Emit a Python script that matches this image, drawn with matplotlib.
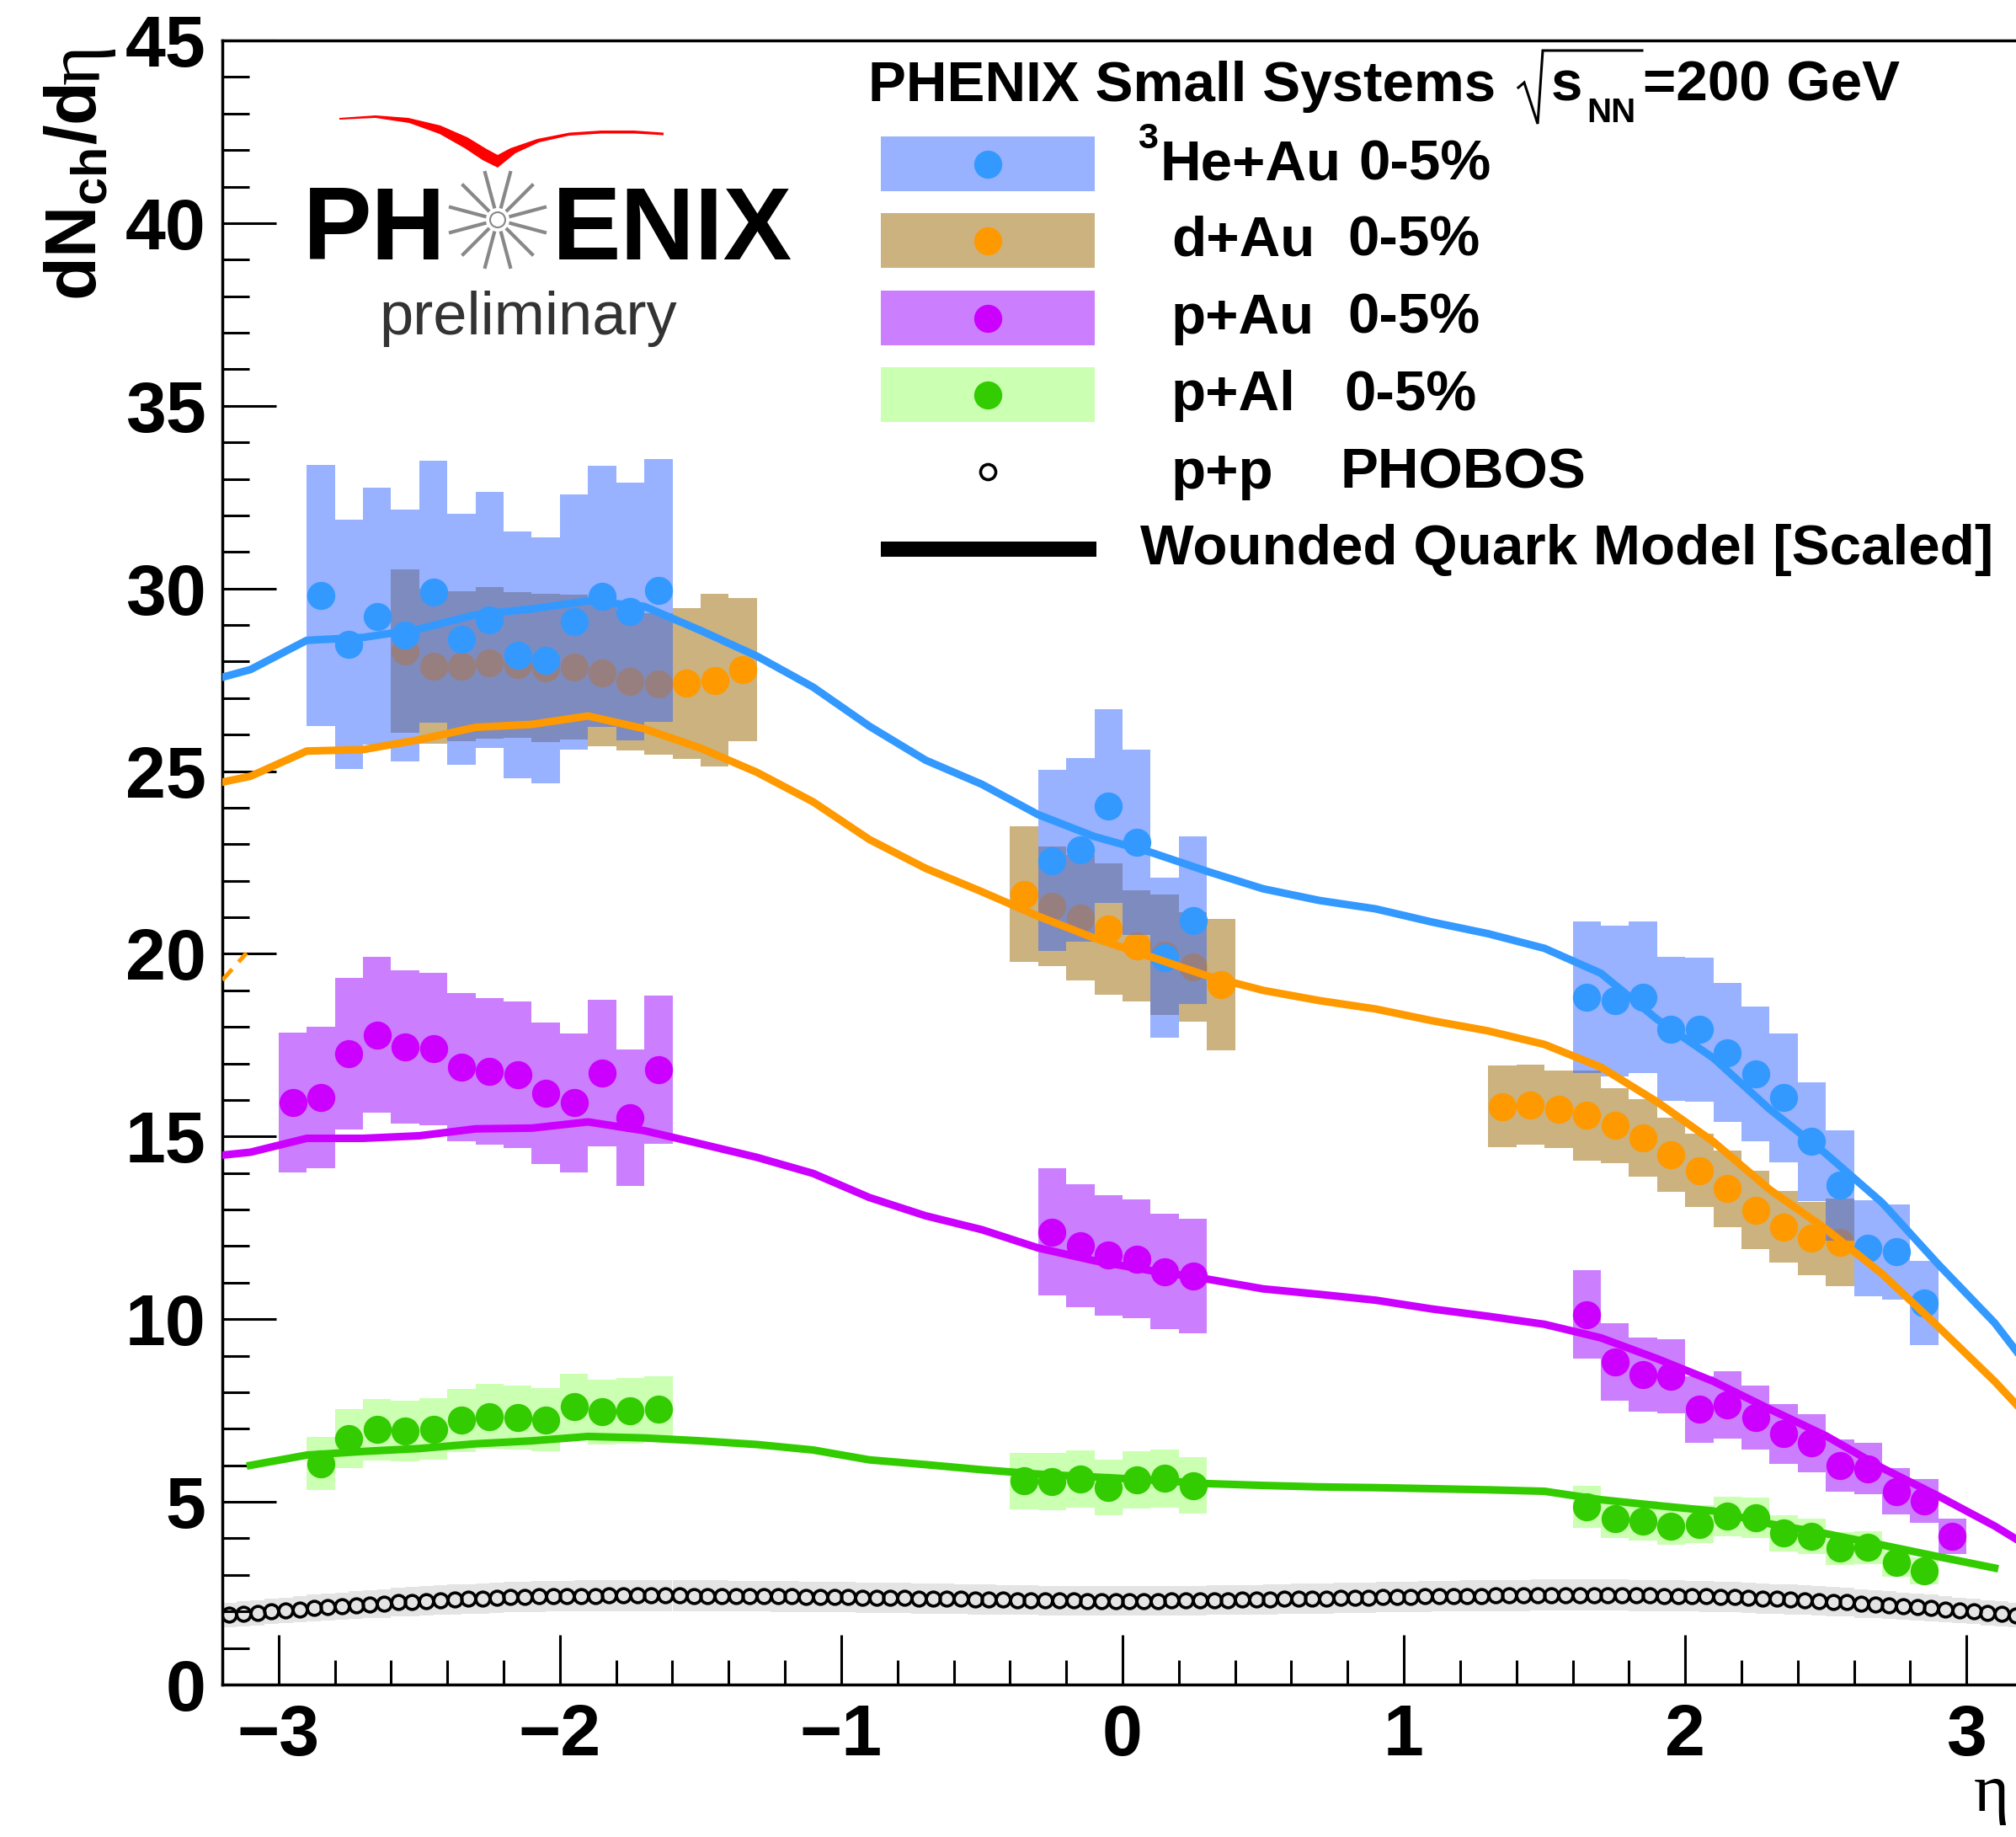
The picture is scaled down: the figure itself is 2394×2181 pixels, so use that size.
import numpy as np
import matplotlib
matplotlib.use("Agg")
import matplotlib.pyplot as plt
from matplotlib.patches import Polygon, Rectangle, Circle
from matplotlib.ticker import MultipleLocator

plt.rcParams['font.family'] = ['Liberation Sans', 'DejaVu Sans']
plt.rcParams['font.weight'] = 'bold'
plt.rcParams['mathtext.fontset'] = 'custom'
plt.rcParams['mathtext.rm'] = 'Liberation Serif'
plt.rcParams['mathtext.bf'] = 'Liberation Sans:bold'
plt.rcParams['mathtext.it'] = 'Liberation Sans:italic:bold'
plt.rcParams['mathtext.default'] = 'bf'

# ---- measured dN/deta, 0-5% central ----
# 3He+Au
he_bw_x = [-2.85, -2.75, -2.65, -2.55, -2.45, -2.35, -2.25, -2.15, -2.05, -1.95, -1.85, -1.75, -1.65]
he_bw_y = [29.81, 28.47, 29.24, 28.72, 29.91, 28.62, 29.14, 28.18, 28.04, 29.09, 29.79, 29.37, 29.95]
he_mid_x = [-0.25, -0.15, -0.05, 0.05, 0.15, 0.25]
he_mid_y = [22.55, 22.84, 24.05, 23.06, 19.89, 20.92]
he_fw_x = [1.65, 1.75, 1.85, 1.95, 2.05, 2.15, 2.25, 2.35, 2.45, 2.55, 2.65, 2.75, 2.85]
he_fw_y = [18.81, 18.71, 18.81, 17.94, 17.93, 17.29, 16.72, 16.06, 14.86, 13.66, 11.94, 11.84, 10.44]
he_syst = {"bw": 0.12, "mid": 0.11, "fw": 0.11}

# d+Au (systematics given as absolute half widths)
da_bw_x = [-2.55, -2.45, -2.35, -2.25, -2.15, -2.05, -1.95, -1.85, -1.75, -1.65, -1.55, -1.45, -1.35]
da_bw_y = [28.29, 27.87, 27.87, 27.97, 27.91, 27.82, 27.85, 27.69, 27.45, 27.39, 27.40, 27.49, 27.79]
da_bw_e = [2.23, 2.13, 2.05, 2.07, 2.00, 2.03, 1.99, 2.00, 1.88, 1.93, 2.07, 2.36, 1.96]
da_mid_x = [-0.35, -0.25, -0.15, -0.05, 0.05, 0.15, 0.25, 0.35]
da_mid_y = [21.63, 21.30, 20.99, 20.68, 20.22, 19.97, 19.64, 19.16]
da_mid_e = [1.85, 1.64, 1.71, 1.80, 1.52, 1.65, 1.50, 1.80]
da_fw_x = [1.35, 1.45, 1.55, 1.65, 1.75, 1.85, 1.95, 2.05, 2.15, 2.25, 2.35, 2.45, 2.55]
da_fw_y = [15.82, 15.87, 15.74, 15.58, 15.30, 14.97, 14.50, 14.07, 13.57, 12.99, 12.52, 12.21, 12.10]
da_fw_e = [1.12, 1.10, 1.06, 1.23, 1.03, 1.06, 1.01, 1.00, 1.05, 1.08, 0.98, 1.00, 1.20]

# p+Au
pa_bw_x = [-2.95, -2.85, -2.75, -2.65, -2.55, -2.45, -2.35, -2.25, -2.15, -2.05, -1.95, -1.85, -1.75, -1.65]
pa_bw_y = [15.94, 16.07, 17.26, 17.78, 17.46, 17.40, 16.89, 16.78, 16.70, 16.18, 15.92, 16.74, 15.52, 16.83]
pa_mid_x = [-0.25, -0.15, -0.05, 0.05, 0.15, 0.25]
pa_mid_y = [12.39, 12.02, 11.75, 11.65, 11.30, 11.18]
pa_fw_x = [1.65, 1.75, 1.85, 1.95, 2.05, 2.15, 2.25, 2.35, 2.45, 2.55, 2.65, 2.75, 2.85, 2.95]
pa_fw_y = [10.13, 8.82, 8.48, 8.44, 7.53, 7.66, 7.30, 6.86, 6.61, 5.99, 5.91, 5.29, 5.03, 4.05]
pa_syst = {"bw": 0.12, "mid": 0.14, "fw": 0.12}

# p+Al
pl_bw_x = [-2.85, -2.75, -2.65, -2.55, -2.45, -2.35, -2.25, -2.15, -2.05, -1.95, -1.85, -1.75, -1.65]
pl_bw_y = [6.05, 6.74, 6.98, 6.94, 6.99, 7.23, 7.34, 7.31, 7.25, 7.60, 7.46, 7.49, 7.54]
pl_mid_x = [-0.35, -0.25, -0.15, -0.05, 0.05, 0.15, 0.25]
pl_mid_y = [5.57, 5.56, 5.62, 5.39, 5.60, 5.64, 5.45]
pl_fw_x = [1.65, 1.75, 1.85, 1.95, 2.05, 2.15, 2.25, 2.35, 2.45, 2.55, 2.65, 2.75, 2.85]
pl_fw_y = [4.86, 4.55, 4.48, 4.34, 4.39, 4.60, 4.57, 4.14, 4.05, 3.73, 3.75, 3.35, 3.11]
pl_syst = {"bw": 0.12, "mid": 0.14, "fw": 0.12}

# p+p PHOBOS
pp_x = np.linspace(-3.175, 3.175, 128)
pp_y = [
    1.91, 1.94, 1.97, 2.00, 2.03, 2.06, 2.09, 2.11, 2.14, 2.17,
    2.20, 2.22, 2.25, 2.27, 2.29, 2.31, 2.33, 2.34, 2.36, 2.37,
    2.39, 2.40, 2.41, 2.42, 2.42, 2.43, 2.43, 2.44, 2.44, 2.44,
    2.44, 2.44, 2.44, 2.43, 2.43, 2.43, 2.42, 2.42, 2.42, 2.41,
    2.41, 2.40, 2.40, 2.39, 2.39, 2.38, 2.38, 2.37, 2.37, 2.36,
    2.35, 2.35, 2.34, 2.33, 2.33, 2.32, 2.31, 2.31, 2.30, 2.30,
    2.30, 2.29, 2.29, 2.29, 2.29, 2.29, 2.29, 2.30, 2.30, 2.30,
    2.31, 2.31, 2.32, 2.32, 2.33, 2.34, 2.35, 2.35, 2.36, 2.37,
    2.38, 2.38, 2.39, 2.40, 2.40, 2.41, 2.42, 2.42, 2.43, 2.43,
    2.44, 2.44, 2.44, 2.45, 2.45, 2.45, 2.45, 2.45, 2.45, 2.45,
    2.44, 2.44, 2.43, 2.43, 2.42, 2.41, 2.40, 2.39, 2.37, 2.36,
    2.34, 2.33, 2.31, 2.29, 2.27, 2.25, 2.22, 2.20, 2.17, 2.14,
    2.12, 2.09, 2.06, 2.03, 2.00, 1.97, 1.94, 1.90,
]
pp_syst = 0.175

# Wounded quark model curves
wqm_x = [-3.3, -3.1, -2.9, -2.7, -2.5, -2.3, -2.1, -1.9, -1.7, -1.5, -1.3, -1.1, -0.9, -0.7, -0.5, -0.3, -0.1,
         0.1, 0.3, 0.5, 0.7, 0.9, 1.1, 1.3, 1.5, 1.7, 1.9, 2.1, 2.3, 2.5, 2.7, 2.9, 3.1, 3.3]
wqm_he = [27.36, 27.78, 28.58, 28.66, 28.89, 29.28, 29.44, 29.66, 29.51, 28.85, 28.15, 27.30, 26.23, 25.30,
          24.64, 23.81, 23.21, 22.78, 22.26, 21.78, 21.46, 21.23, 20.87, 20.55, 20.15, 19.47, 18.21, 17.15,
          15.75, 14.53, 13.19, 11.50, 9.90, 7.90]
wqm_da = [24.54, 24.86, 25.55, 25.59, 25.86, 26.20, 26.28, 26.51, 26.16, 25.63, 24.97, 24.16, 23.13, 22.34,
          21.70, 21.03, 20.43, 19.92, 19.40, 19.00, 18.72, 18.49, 18.17, 17.89, 17.52, 16.90, 15.95, 14.86,
          13.55, 12.47, 11.24, 9.79, 8.30, 6.65]
wqm_pa = [14.41, 14.57, 14.95, 14.95, 15.02, 15.21, 15.23, 15.40, 15.16, 14.80, 14.43, 13.99, 13.33, 12.83,
          12.45, 11.95, 11.60, 11.33, 11.10, 10.83, 10.68, 10.52, 10.28, 10.08, 9.86, 9.49, 8.92, 8.30,
          7.54, 6.81, 5.93, 5.16, 4.34, 3.40]
wqm_pl_x = wqm_x[1:-1]
wqm_pl = [6.00, 6.28, 6.38, 6.46, 6.59, 6.67, 6.79, 6.75, 6.67, 6.57, 6.42, 6.15, 6.02, 5.88, 5.76, 5.68,
          5.60, 5.50, 5.45, 5.41, 5.39, 5.36, 5.33, 5.29, 5.06, 4.90, 4.75, 4.40, 4.13, 3.82, 3.50, 3.19]

# short dashed d+Au piece at the left edge
da_dash_x = [-3.2, -3.114]
da_dash_y = [19.28, 20.02]

# colours
c_he, c_he_box = '#3399ff', '#3366ff'
c_da, c_da_box = '#ff9900', '#996600'
c_pa, c_pa_box = '#cc00ff', '#9900ff'
c_pl, c_pl_box = '#33cc00', '#99ff66'

W, H = 2394, 2181
fig = plt.figure(figsize=(W / 100, H / 100), dpi=100)
ax = fig.add_axes([264 / W, 1 - 2000 / H, (2402 - 264) / W, (2000 - 48) / H])


def boxes(x, y, err, color, z):
    x = np.asarray(x); y = np.asarray(y); err = np.asarray(err)
    ax.bar(x, 2 * err, bottom=y - err, width=0.1, color=color, alpha=0.5, linewidth=0, zorder=z)


def points(x, y, color, z):
    ax.plot(x, y, 'o', ms=24, mew=0, color=color, zorder=z)


# p+p band and points
pp_y = np.asarray(pp_y)
ax.bar(pp_x, 2 * pp_syst * pp_y, bottom=pp_y * (1 - pp_syst), width=0.05, color='#e4e4e4',
       linewidth=0, zorder=1)
ax.plot(pp_x, pp_y, 'o', ms=12, mfc='none', mec='black', mew=2.6, zorder=1.5)

# d+Au first, then the 3He+Au boxes are drawn over it
for x, y, e in [(da_bw_x, da_bw_y, da_bw_e), (da_mid_x, da_mid_y, da_mid_e), (da_fw_x, da_fw_y, da_fw_e)]:
    boxes(x, y, e, c_da_box, 2)
    points(x, y, c_da, 3)

for (x, y, key) in [(he_bw_x, he_bw_y, "bw"), (he_mid_x, he_mid_y, "mid"), (he_fw_x, he_fw_y, "fw")]:
    boxes(x, np.asarray(y), he_syst[key] * np.asarray(y), c_he_box, 4)
    points(x, y, c_he, 5)

for (x, y, key) in [(pa_bw_x, pa_bw_y, "bw"), (pa_mid_x, pa_mid_y, "mid"), (pa_fw_x, pa_fw_y, "fw")]:
    boxes(x, np.asarray(y), pa_syst[key] * np.asarray(y), c_pa_box, 4)
    points(x, y, c_pa, 5)

for (x, y, key) in [(pl_bw_x, pl_bw_y, "bw"), (pl_mid_x, pl_mid_y, "mid"), (pl_fw_x, pl_fw_y, "fw")]:
    boxes(x, np.asarray(y), pl_syst[key] * np.asarray(y), c_pl_box, 4)
    points(x, y, c_pl, 5)

# model curves
for y, c in [(wqm_he, c_he), (wqm_da, c_da), (wqm_pa, c_pa)]:
    ax.plot(wqm_x, y, color=c, lw=6.5, zorder=7)
ax.plot(wqm_pl_x, wqm_pl, color=c_pl, lw=6.5, zorder=7)
ax.plot(da_dash_x, da_dash_y, color=c_da, lw=3.6, ls=(0, (3.5, 2.3)), zorder=7,
        solid_capstyle='butt', dash_capstyle='butt')

ax.set_xlim(-3.2, 3.2)
ax.set_ylim(0, 45)
ax.xaxis.set_major_locator(MultipleLocator(1))
ax.xaxis.set_minor_locator(MultipleLocator(0.2))
ax.yaxis.set_major_locator(MultipleLocator(5))
ax.yaxis.set_minor_locator(MultipleLocator(1))
ax.tick_params(which='both', direction='in', top=False, right=False, width=2.2)
ax.tick_params(axis='y', which='major', length=46, labelsize=62, pad=14)
ax.tick_params(axis='y', which='minor', length=23)
ax.tick_params(axis='x', which='major', length=42.5, labelsize=62, pad=16)
ax.tick_params(axis='x', which='minor', length=21)
for s in ax.spines.values():
    s.set_linewidth(2.5)

# overlay in pixel coordinates for legend, logo and axis titles
ov = fig.add_axes([0, 0, 1, 1])
ov.set_xlim(0, W)
ov.set_ylim(H, 0)
ov.axis('off')

# axis titles
ov.text(92, 357, r'$dN_{ch}/d$', rotation=90, fontsize=61, ha='center', va='bottom')
ov.text(95, 52, 'η', rotation=90, fontsize=66, family='Liberation Serif', weight='normal',
        ha='center', va='top')
ov.text(2386, 2150, 'η', fontsize=58, family='Liberation Serif', weight='normal', ha='right',
        va='baseline')

# legend header with a hand-drawn radical
fs = 48.5
ov.text(1031, 120, 'PHENIX Small Systems', fontsize=fs, va='baseline')
ov.plot([1803, 1810, 1826, 1832, 1950], [104, 98, 147, 60, 60], color='black', lw=2.2,
        solid_joinstyle='miter')
ov.text(1842, 120, 's', fontsize=fs, va='baseline')
ov.text(1884, 145, 'NN', fontsize=29, va='baseline')
ov.text(1951, 120, '=200 GeV', fontsize=fs, va='baseline')

entries = [
    (194.5, c_he_box, c_he), (285.5, c_da_box, c_da), (377.5, c_pa_box, c_pa), (468.5, c_pl_box, c_pl),
]
for yc, box, pt in entries:
    ov.add_patch(Rectangle((1046, yc - 32.5), 254, 65, color=box, alpha=0.5, lw=0))
    ov.plot([1173], [yc], 'o', ms=24, mew=0, color=pt)
ov.plot([1173], [560], 'o', ms=13, mfc='none', mec='black', mew=2.6)
ov.plot([1046, 1302], [652, 652], color='black', lw=13, solid_capstyle='butt')

ov.text(1351, 176, '3', fontsize=31, va='baseline')
ov.text(1378, 213, 'He+Au', fontsize=fs, va='baseline')
ov.text(1613, 213, '0-5%', fontsize=fs, va='baseline')
ov.text(1391, 304, 'd+Au', fontsize=fs, va='baseline')
ov.text(1600, 304, '0-5%', fontsize=fs, va='baseline')
ov.text(1391, 396, 'p+Au', fontsize=fs, va='baseline')
ov.text(1600, 396, '0-5%', fontsize=fs, va='baseline')
ov.text(1391, 487, 'p+Al', fontsize=fs, va='baseline')
ov.text(1596, 487, '0-5%', fontsize=fs, va='baseline')
ov.text(1391, 580, 'p+p', fontsize=fs, va='baseline')
ov.text(1591, 580, 'PHOBOS', fontsize=fs, va='baseline')
ov.text(1354, 670, 'Wounded Quark Model [Scaled]', fontsize=fs, va='baseline')

# PHENIX logo
swoosh = [(403, 140), (446, 137), (485, 140), (523, 149), (555, 163), (578, 177), (591, 184),
          (606, 176), (638, 165), (676, 157.5), (714, 155), (753, 155), (788, 157.5),
          (788, 160.5), (753, 158.5), (714, 158.5), (676, 161), (640, 169), (612, 182), (591, 199),
          (573, 190), (552, 176), (522, 159), (486, 146), (446, 140), (403, 142)]
ov.add_patch(Polygon(swoosh, closed=True, facecolor='#ff0000', lw=0))

cx, cy = 591, 261
for ang in np.deg2rad(np.arange(15, 360, 30)):
    ov.plot([cx + 14 * np.cos(ang), cx + 60 * np.cos(ang)],
            [cy - 14 * np.sin(ang), cy - 60 * np.sin(ang)], color='#888888', lw=3, solid_capstyle='butt')
ov.add_patch(Circle((cx, cy), 9, fill=False, ec='#888888', lw=1.5))
ov.text(445, 308, 'PH', fontsize=88, ha='center', va='baseline')
ov.text(656, 308, 'ENIX', fontsize=88, ha='left', va='baseline')
ov.text(450, 397, 'preliminary', fontsize=52, weight='normal', color='#333333', va='baseline')

fig.savefig('out.png', dpi=100)
